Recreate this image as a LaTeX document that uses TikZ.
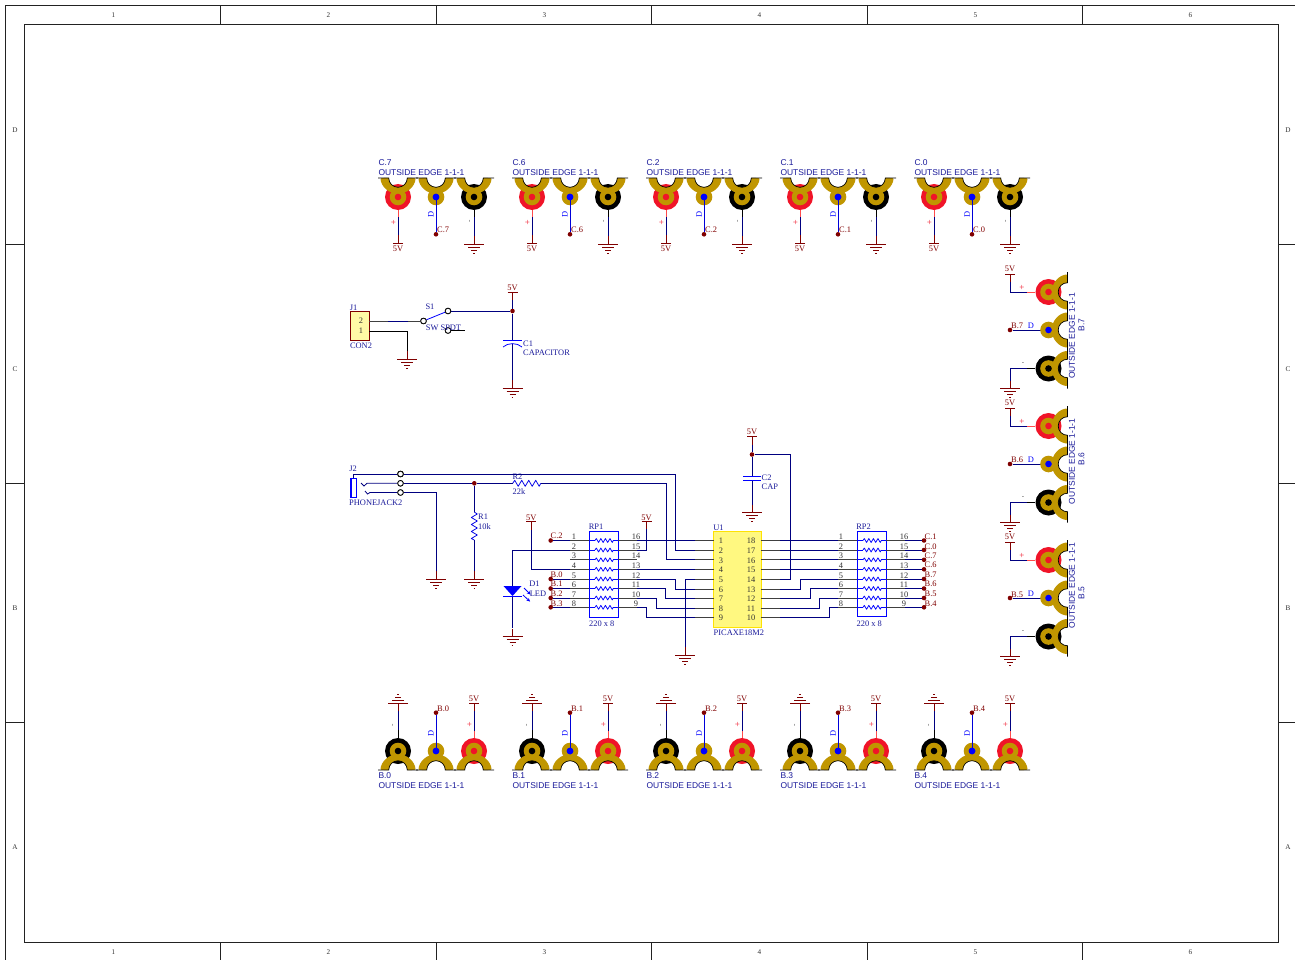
\documentclass[tikz,border=0pt]{standalone}
\usepackage{fontspec}
\setmainfont{Liberation Serif}
\newfontfamily\arialf{Liberation Sans}
\usetikzlibrary{arrows.meta}
\definecolor{navyw}{HTML}{000080}
\definecolor{darkr}{HTML}{800000}
\definecolor{lugg}{HTML}{C09600}
\definecolor{ringr}{HTML}{F01428}
\definecolor{bluec}{HTML}{0000FF}
\definecolor{textb}{HTML}{1A1A9A}
\definecolor{frame}{HTML}{222222}
\tikzset{
  wire/.style={navyw,line width=.8pt,line join=miter},
  pinl/.style={black!75,line width=.8pt},
  part/.style={bluec,line width=.8pt},
  lab/.style={inner sep=0,yshift=-.7pt,font=\fontsize{8.4}{9}\selectfont,text=textb},
  rlab/.style={inner sep=0,yshift=-.7pt,font=\fontsize{8.4}{9}\selectfont,text=darkr},
  num/.style={inner sep=0,yshift=-.7pt,font=\fontsize{8.4}{9}\selectfont,text=black!80},
  slab/.style={inner sep=0,yshift=-.7pt,font=\arialf\fontsize{8.45}{9}\selectfont,text=textb},
  slabr/.style={inner sep=0,font=\arialf\fontsize{8.45}{9}\selectfont,text=textb,rotate=90},
  flab/.style={inner sep=0,font=\fontsize{7.2}{8}\selectfont,text=black!80},
  plus/.style={inner sep=0,font=\fontsize{9}{9}\selectfont,text=ringr},
  minus/.style={inner sep=0,font=\fontsize{7}{7}\selectfont,text=black!70},
  dlab/.style={inner sep=0,font=\fontsize{8.4}{9}\selectfont,text=bluec},
  joint/.style={circle,fill=darkr,inner sep=0,minimum size=4.6pt},
  hole/.style={circle,draw=black,fill=white,line width=.8pt,inner sep=0,minimum size=5.6pt},
  pics/lug/.style 2 args={code={
    \if\relax#1\relax\else\fill[#1] (0,19) circle[radius=13pt];\fi
    \fill[lugg] (0,19) circle[radius=8.3pt];
    \fill[lugg] (-17.5,1) .. controls (-17,8) and (-9.67,15.8) .. (0,15.8)
      .. controls (9.67,15.8) and (17,8) .. (17.5,1)
      .. controls (17.5,0) and (16,0) .. (14,0) -- (9.3,0)
      .. controls (9.3,5.1) and (5.1,9.3) .. (0,9.3)
      .. controls (-5.1,9.3) and (-9.3,5.1) .. (-9.3,0) -- (-14,0)
      .. controls (-16,0) and (-17.5,0) .. (-17.5,1) -- cycle;
    \fill[#2] (0,19) circle[radius=3.3pt];
    \draw[black,line width=.7pt] (-20,0) -- (-9.3,0)
      .. controls (-9.3,5.1) and (-5.1,9.3) .. (0,9.3)
      .. controls (5.1,9.3) and (9.3,5.1) .. (9.3,0) -- (20,0);
  }},
  pics/vccp/.style={code={
    \draw[darkr,line width=.75pt] (-5,0) -- (5,0) (0,0) -- (0,8);
  }},
  pics/gndp/.style={code={
    \draw[darkr,line width=.75pt] (0,-8) -- (0,0) (-10,0) -- (10,0) (-6,3) -- (6,3) (-3,6) -- (3,6) (-.8,9) -- (.8,9);
  }},
  pics/rz/.style={code={
    \draw[#1,line width=.75pt,line join=round] (0,0) -- (2,-3) -- (5.5,3) -- (9,-3) -- (12.5,3) -- (16,-3) -- (19.5,3) -- (23,-3) -- (26.5,3) -- (28,0);
  }},
}
\begin{document}
\begin{tikzpicture}[x=1pt,y=-1pt]
\useasboundingbox (0,0) rectangle (1295,960);
\fill[white] (0,0) rectangle (1295,960);
% frame
\draw[frame,line width=.9pt] (5.5,960) -- (5.5,5.5) -- (1295,5.5);
\draw[frame,line width=.9pt] (24.5,24.5) rectangle (1278.5,942.5);
\foreach \x in {220.5,436,651,867,1082} {
  \draw[frame,line width=.9pt] (\x,5.5) -- (\x,24.5) (\x,942.5) -- (\x,960);
}
\foreach \y in {244,483,722} {
  \draw[frame,line width=.9pt] (5.5,\y) -- (24.5,\y) (1278.5,\y) -- (1295,\y);
}
\foreach \x/\t [count=\k] in {113.5/1,328.5/2,544.5/3,759.5/4,975.5/5,1190.5/6} {
  \node[flab] (ct\k) at (\x,15.5) {\t};
  \node[flab] (cb\k) at (\x,952.5) {\t};
}
\foreach \y/\t [count=\k] in {130.5/D,369.5/C,608.5/B,847.5/A} {
  \node[flab] (rl\k) at (15,\y) {\t};
  \node[flab] (rr\k) at (1288,\y) {\t};
}
% ---------- top connectors
\foreach \x/\n [count=\k] in {398/C.7,532/C.6,666/C.2,800/C.1,934/C.0} {
  \coordinate (ta\k) at (\x,209.5);
  \coordinate (tb\k) at (\x+38,197);
  \coordinate (tc\k) at (\x+76,209.5);
  \coordinate (tap\k) at (\x,217);
  \coordinate (tcp\k) at (\x+76,217);
  \coordinate (tav\k) at (\x,235);
  \coordinate (tcg\k) at (\x+76,236);
  \draw[red!70!white,line width=.75pt] (ta\k) -- (tap\k);
  \draw[black,line width=.75pt] (tc\k) -- (tcp\k);
  \draw[wire] (tap\k) -- (tav\k);
  \draw[wire] (tcp\k) -- (tcg\k);
  \node[joint] (tj\k) at (\x+38,234.3) {};
  \draw[wire,bluec!70!navyw] (tb\k) -- (tj\k);
  \pic[rotate=180] at (\x,243) {vccp};
  \pic at (\x+76,244) {gndp};
  \pic at (\x,178) {lug={ringr}{ringr}};
  \pic at (\x+38,178) {lug={}{bluec}};
  \pic at (\x+76,178) {lug={black}{black}};
  \draw[wire,bluec!70!navyw] (tb\k) -- ++(0,12);
  \fill[bluec] (tb\k) circle[radius=3.3pt];
  \node[slab,anchor=mid west] (tn\k) at (\x-19.7,163) {\n};
  \node[slab,anchor=mid west] (te\k) at (\x-19.7,172.8) {OUTSIDE EDGE 1-1-1};
  \node[rlab] (tv\k) at (\x,248.3) {5V};
  \node[rlab,anchor=mid west] (tl\k) at (\x+39,230) {\n};
  \node[plus] (tp\k) at (\x-4.5,223) {+};
  \node[dlab,rotate=90] (td\k) at (\x+33,214.5) {D};
  \node[minus,rotate=90] (tm\k) at (\x+72.5,221) {-};
}
% ---------- bottom connectors
\foreach \x/\n [count=\k] in {398/B.0,532/B.1,666/B.2,800/B.3,934/B.4} {
  \coordinate (ba\k) at (\x,738);
  \coordinate (bb\k) at (\x+38,751);
  \coordinate (bc\k) at (\x+76,738);
  \coordinate (bap\k) at (\x,730);
  \coordinate (bcp\k) at (\x+76,731);
  \coordinate (bag\k) at (\x,711);
  \coordinate (bcv\k) at (\x+76,711);
  \draw[black,line width=.75pt] (ba\k) -- (bap\k);
  \draw[red!70!white,line width=.75pt] (bc\k) -- (bcp\k);
  \draw[wire] (bap\k) -- (bag\k);
  \draw[wire] (bcp\k) -- (bcv\k);
  \node[joint] (bj\k) at (\x+38,712.7) {};
  \draw[wire,bluec!70!navyw] (bb\k) -- (bj\k);
  \pic[rotate=180] at (\x,703) {gndp};
  \pic at (\x+76,703) {vccp};
  \pic[rotate=180] at (\x,770) {lug={black}{black}};
  \pic[rotate=180] at (\x+38,770) {lug={}{bluec}};
  \pic[rotate=180] at (\x+76,770) {lug={ringr}{ringr}};
  \draw[wire,bluec!70!navyw] (bb\k) -- ++(0,-12);
  \fill[bluec] (bb\k) circle[radius=3.3pt];
  \node[slab,anchor=mid west] (bn\k) at (\x-19.7,775.5) {\n};
  \node[slab,anchor=mid west] (be\k) at (\x-19.7,785) {OUTSIDE EDGE 1-1-1};
  \node[rlab] (bv\k) at (\x+76,698) {5V};
  \node[rlab,anchor=mid west] (bl\k) at (\x+39,708) {\n};
  \node[plus] (bp\k) at (\x+71.5,724.5) {+};
  \node[dlab,rotate=90] (bd\k) at (\x+33,733) {D};
  \node[minus,rotate=90] (bm\k) at (\x-4.5,725) {-};
}
% ---------- right connectors
\foreach \y/\n/\tx/\bx [count=\k] in {292/B.7/336/325,426/B.6/461.5/459,560/B.5/585.5/593} {
  \coordinate (ra\k) at (1035,\y);
  \coordinate (rb\k) at (1048.5,\y+38);
  \coordinate (rc\k) at (1035,\y+76.5);
  \coordinate (rap\k) at (1027,\y);
  \coordinate (rcp\k) at (1027,\y+76.5);
  \coordinate (rav\k) at (1010,\y-10);
  \coordinate (rcg\k) at (1010,\y+88.5);
  \draw[red!70!white,line width=.75pt] (ra\k) -- (rap\k);
  \draw[black,line width=.75pt] (rc\k) -- (rcp\k);
  \draw[wire] (rap\k) -| (rav\k);
  \draw[wire] (rcp\k) -| (rcg\k);
  \node[joint] (rj\k) at (1010,\y+38) {};
  \draw[wire] (rj\k) -- (rb\k);
  \pic at (1010,\y-18) {vccp};
  \pic at (1010,\y+96.5) {gndp};
  \pic[rotate=-90] at (1067.5,\y) {lug={ringr}{ringr}};
  \pic[rotate=-90] at (1067.5,\y+38) {lug={}{bluec}};
  \pic[rotate=-90] at (1067.5,\y+76.5) {lug={black}{black}};
  \node[slabr] (re\k) at (1072,\tx) {OUTSIDE EDGE 1-1-1};
  \node[slabr] (rn\k) at (1081.5,\bx) {\n};
  \node[rlab] (rv\k) at (1010,\y-24) {5V};
  \node[rlab,anchor=mid west] (rl\k) at (1011,\y+34) {\n};
  \node[plus] (rp\k) at (1022,\y-4) {+};
  \node[dlab] (rd\k) at (1031,\y+34) {D};
  \node[minus] (rm\k) at (1023,\y+72) {-};
}
% ---------- J1, S1, C1
\node[draw=darkr,fill=yellow!35,line width=.8pt,minimum width=19pt,minimum height=28.5pt,inner sep=0] (J1) at (359.5,326) {};
\node[num] (j1p2) at (361,320.5) {2};
\node[num] (j1p1) at (361,330) {1};
\node[lab] (j1r) at (353.5,307) {J1};
\node[lab] (j1c) at (361,345) {CON2};
\coordinate (j1a) at (369,321);
\coordinate (j1b) at (369,331);
\coordinate (j1as) at (388,321);
\coordinate (j1at) at (408,321);
\coordinate (j1g) at (407,351);
\node[hole] (s1p) at (423.5,321) {};
\node[hole] (s1a) at (448,311) {};
\node[hole] (s1b) at (448,330.5) {};
\node[joint] (vj) at (512.5,311) {};
\coordinate (s1e) at (465,330.5);
\coordinate (c1t) at (512.5,340);
\coordinate (c1b) at (512.5,343.5);
\coordinate (c1g) at (512.5,380);
\coordinate (c1v) at (512.5,300);
\draw[pinl] (j1a) -- (j1as) (j1at) -- (s1p);
\draw[wire] (j1as) -- (j1at);
\draw[black,line width=.75pt] (j1b) -| (j1g);
\draw[part] (s1p) -- (s1a);
\draw[wire] (s1a) -- (vj);
\draw[black,line width=.75pt] (s1b) -- (s1e);
\draw[wire] (c1v) -- (vj) -- (c1t);
\draw[wire] (c1b) -- (c1g);
\node[hole] at (s1p) {};
\node[hole] at (s1a) {};
\node[hole] at (s1b) {};
\draw[part] (503,340) -- (522,340);
\draw[part] (503,347) .. controls (508,342.5) and (517,342.5) .. (522,347);
\pic at (407,359) {gndp};
\pic at (512.5,292) {vccp};
\pic at (512.5,388) {gndp};
\node[lab] (s1r) at (430,306) {S1};
\node[lab] (s1v) at (443.5,327) {SW SPDT};
\node[rlab] (c1vl) at (512.5,287) {5V};
\node[lab,anchor=mid west] (c1r) at (523,344) {C1};
\node[lab,anchor=mid west] (c1n) at (523,353) {CAPACITOR};
% ---------- J2
\draw[part] (351,478) rectangle (356,497.5);
\draw[bluec,line width=2pt] (351,477.5) -- (351,498);
\node[hole] (h1) at (400.5,474) {};
\node[hole] (h2) at (400.5,483.3) {};
\node[hole] (h3) at (400.5,492.5) {};
\draw[wire] (353.5,478) |- (h1);
\draw[wire] (361,483) -- (364,486) -- (367,483.3) -- (h2);
\draw[wire] (365,491) -- (367.5,494) -- (370,492.5) -- (h3);
\node[joint] (r1j) at (474.3,483.3) {};
\coordinate (r2a) at (512.7,483.3);
\coordinate (r2b) at (541,483.3);
\coordinate (r1a) at (474.3,512);
\coordinate (r1b) at (474.3,540);
\coordinate (r1g) at (474.3,571);
\coordinate (j2g) at (436,571);
\draw[wire] (h2) -- (r1j) -- (r2a);
\draw[wire] (r1j) -- (r1a);
\draw[wire] (r1b) -- (r1g);
\draw[wire] (h3) -| (j2g);
\node[hole] at (h1) {};
\node[hole] at (h2) {};
\node[hole] at (h3) {};
\pic at (r2a) {rz=bluec!80!navyw};
\pic[rotate=-90] at (r1a) {rz=bluec!80!navyw};
\pic at (436,579) {gndp};
\pic at (474.3,579) {gndp};
\node[lab] (j2r) at (353,468) {J2};
\node[lab,anchor=mid west] (j2n) at (349,503) {PHONEJACK2};
\node[lab] (r2r) at (517.5,476.5) {R2};
\node[lab] (r2v) at (519,491) {22k};
\node[lab,anchor=mid west] (r1r) at (478,517) {R1};
\node[lab,anchor=mid west] (r1v) at (478,527) {10k};
% ---------- RP1 / RP2 / U1 pins
\node[draw=bluec,line width=.8pt,minimum width=29pt,minimum height=86pt,inner sep=0] (RP1) at (603.5,574) {};
\node[draw=bluec,line width=.8pt,minimum width=29pt,minimum height=85pt,inner sep=0] (RP2) at (871.5,574) {};
\node[draw=yellow!85!orange,fill=yellow!50,line width=.9pt,minimum width=47.5pt,minimum height=95.5pt,inner sep=0] (U1) at (737.5,579.5) {};
\foreach \i/\y in {1/540.5,2/550,3/559.8,4/569.3,5/579,6/588.5,7/598,8/607.3} {
  \pgfmathtruncatemacro\o{17-\i}
  \coordinate (ral\i) at (589,\y);
  \coordinate (ralo\i) at (570,\y);
  \coordinate (rar\i) at (618,\y);
  \coordinate (raro\i) at (637,\y);
  \coordinate (rbl\i) at (857,\y);
  \coordinate (rblo\i) at (838,\y);
  \coordinate (rbr\i) at (886,\y);
  \coordinate (rbro\i) at (905,\y);
  \draw[pinl] (ralo\i) -- (ral\i) (rar\i) -- (raro\i) (rblo\i) -- (rbl\i) (rbr\i) -- (rbro\i);
  \foreach \xx in {589,857} {
    \draw[part] (\xx,\y) -- (\xx+6,\y) (\xx+24,\y) -- (\xx+29,\y);
    \pic[xscale=.65,yscale=.65] at (\xx+6,\y) {rz=bluec};
  }
  \node[num] (ran\i) at (574,\y-4.3) {\i};
  \node[num] (rao\i) at (636,\y-4.3) {\o};
  \node[num] (rbn\i) at (841,\y-4.3) {\i};
  \node[num] (rbo\i) at (904,\y-4.3) {\o};
}
\foreach \i/\y in {1/540.5,2/550,3/559.8,4/569.3,5/579,6/589,7/598.3,8/608,9/617} {
  \pgfmathtruncatemacro\o{19-\i}
  \coordinate (ul\i) at (714,\y);
  \coordinate (ulo\i) at (695,\y);
  \coordinate (ur\i) at (761,\y);
  \coordinate (uro\i) at (780,\y);
  \draw[pinl] (ulo\i) -- (ul\i) (ur\i) -- (uro\i);
  \node[num] (uln\i) at (721,\y) {\i};
  \node[num] (urn\i) at (751,\y) {\o};
}
\node[lab] (rp1r) at (596,526) {RP1};
\node[lab,anchor=mid west] (rp1v) at (589,623) {220 x 8};
\node[lab] (rp2r) at (863.5,526) {RP2};
\node[lab,anchor=mid west] (rp2v) at (856.5,623) {220 x 8};
\node[lab] (u1r) at (718.5,527) {U1};
\node[lab,anchor=mid west] (u1n) at (713.5,632) {PICAXE18M2};
% ---------- wiring left of U1
\draw[wire] (raro1) -- (ulo1);
\draw[wire] (raro4) -- (ulo4);
\coordinate (v15) at (646.5,529);
\draw[wire] (raro2) -| (v15);
\pic at (646.5,521) {vccp};
\node[rlab] (v15l) at (646.5,517) {5V};
\draw[wire] (raro5) -- ++(38,0) |- (ulo6);
\draw[wire] (raro6) -- ++(28,0) |- (ulo7);
\draw[wire] (raro7) -- ++(19,0) |- (ulo8);
\draw[wire] (raro8) -- ++(9,0) |- (ulo9);
\draw[wire] (h1) -- ++(275,0) |- (ulo2);
\draw[wire] (r2b) -- ++(125,0) |- (ulo3);
\node[hole] at (h1) {};
\coordinate (g5) at (685,647);
\draw[wire] (ulo5) -| (g5);
\pic at (685,655) {gndp};
% ---------- wiring left of RP1
\node[joint] (cb0) at (550.7,540.5) {};
\node[joint] (db0) at (550.7,579) {};
\node[joint] (db1) at (550.7,588.5) {};
\node[joint] (db2) at (550.7,598) {};
\node[joint] (db3) at (550.7,607.3) {};
\draw[wire] (cb0) -- (ralo1);
\draw[wire] (db0) -- (ralo5);
\draw[wire] (db1) -- (ralo6);
\draw[wire] (db2) -- (ralo7);
\draw[wire] (db3) -- (ralo8);
\node[rlab,anchor=mid west] (lc2) at (550.5,536) {C.2};
\node[rlab,anchor=mid west] (lb0) at (550.5,574.5) {B.0};
\node[rlab,anchor=mid west] (lb1) at (550.5,584) {B.1};
\node[rlab,anchor=mid west] (lb2) at (550.5,593.5) {B.2};
\node[rlab,anchor=mid west] (lb3) at (550.5,603) {B.3};
% ---------- LED
\coordinate (d1a) at (512.5,586);
\coordinate (d1c) at (512.5,597);
\coordinate (d1g) at (512.5,628);
\coordinate (vd) at (531.3,529.5);
\draw[wire] (ralo2) -| (d1a);
\draw[wire] (d1c) -- (d1g);
\draw[wire] (vd) |- (ralo4);
\fill[bluec] (503.5,586) -- (521.5,586) -- (512.5,596) -- cycle;
\draw[bluec,line width=1.2pt] (503,596.7) -- (522,596.7);
\draw[bluec,line width=.8pt,-{Stealth[length=3.5pt,width=3.5pt]}] (524,588) -- (530.5,594.5);
\draw[bluec,line width=.8pt,-{Stealth[length=3.5pt,width=3.5pt]}] (523,595) -- (530,601.5);
\pic at (531.3,521.5) {vccp};
\pic at (512.5,636.5) {gndp};
\node[rlab] (vdl) at (531.3,517) {5V};
\node[lab] (d1r) at (534.5,583) {D1};
\node[lab] (d1n) at (538,593) {LED};
% ---------- C2
\node[joint] (c2j) at (752,454.5) {};
\coordinate (c2v) at (752,445);
\coordinate (c2t) at (752,476.7);
\coordinate (c2b) at (752,480.7);
\coordinate (c2g) at (752,504.5);
\draw[wire] (c2v) -- (c2j) -- (c2t);
\draw[wire] (c2b) -- (c2g);
\draw[part] (743,476.7) -- (761,476.7) (743,480.7) -- (761,480.7);
\pic at (752,436.5) {vccp};
\pic at (752,512.5) {gndp};
\node[rlab] (c2vl) at (752,431) {5V};
\node[lab,anchor=mid west] (c2r) at (761.5,477.5) {C2};
\node[lab,anchor=mid west] (c2n) at (761.5,487) {CAP};
% ---------- wiring right of U1
\foreach \i in {1,2,3,4} { \draw[wire] (uro\i) -- (rblo\i); }
\draw[wire] (uro5) -- ++(10,0) |- (c2j);
\draw[wire] (uro6) -- ++(20,0) |- (rblo5);
\draw[wire] (uro7) -- ++(30,0) |- (rblo6);
\draw[wire] (uro8) -- ++(39,0) |- (rblo7);
\draw[wire] (uro9) -- ++(49,0) |- (rblo8);
% ---------- RP2 outputs
\foreach \i/\n/\y/\ly in {1/C.1/540.5/536.5,2/C.0/550/546.5,3/C.7/559.8/555.5,4/C.6/569.3/565,5/B.7/579/574.5,6/B.6/588.5/584,7/B.5/598/593.5,8/B.4/607.3/603.3} {
  \node[joint] (rq\i) at (924,\y) {};
  \draw[wire] (rbro\i) -- (rq\i);
  \node[rlab,anchor=mid west] (rq\i l) at (924.5,\ly) {\n};
}
\end{tikzpicture}
\end{document}
